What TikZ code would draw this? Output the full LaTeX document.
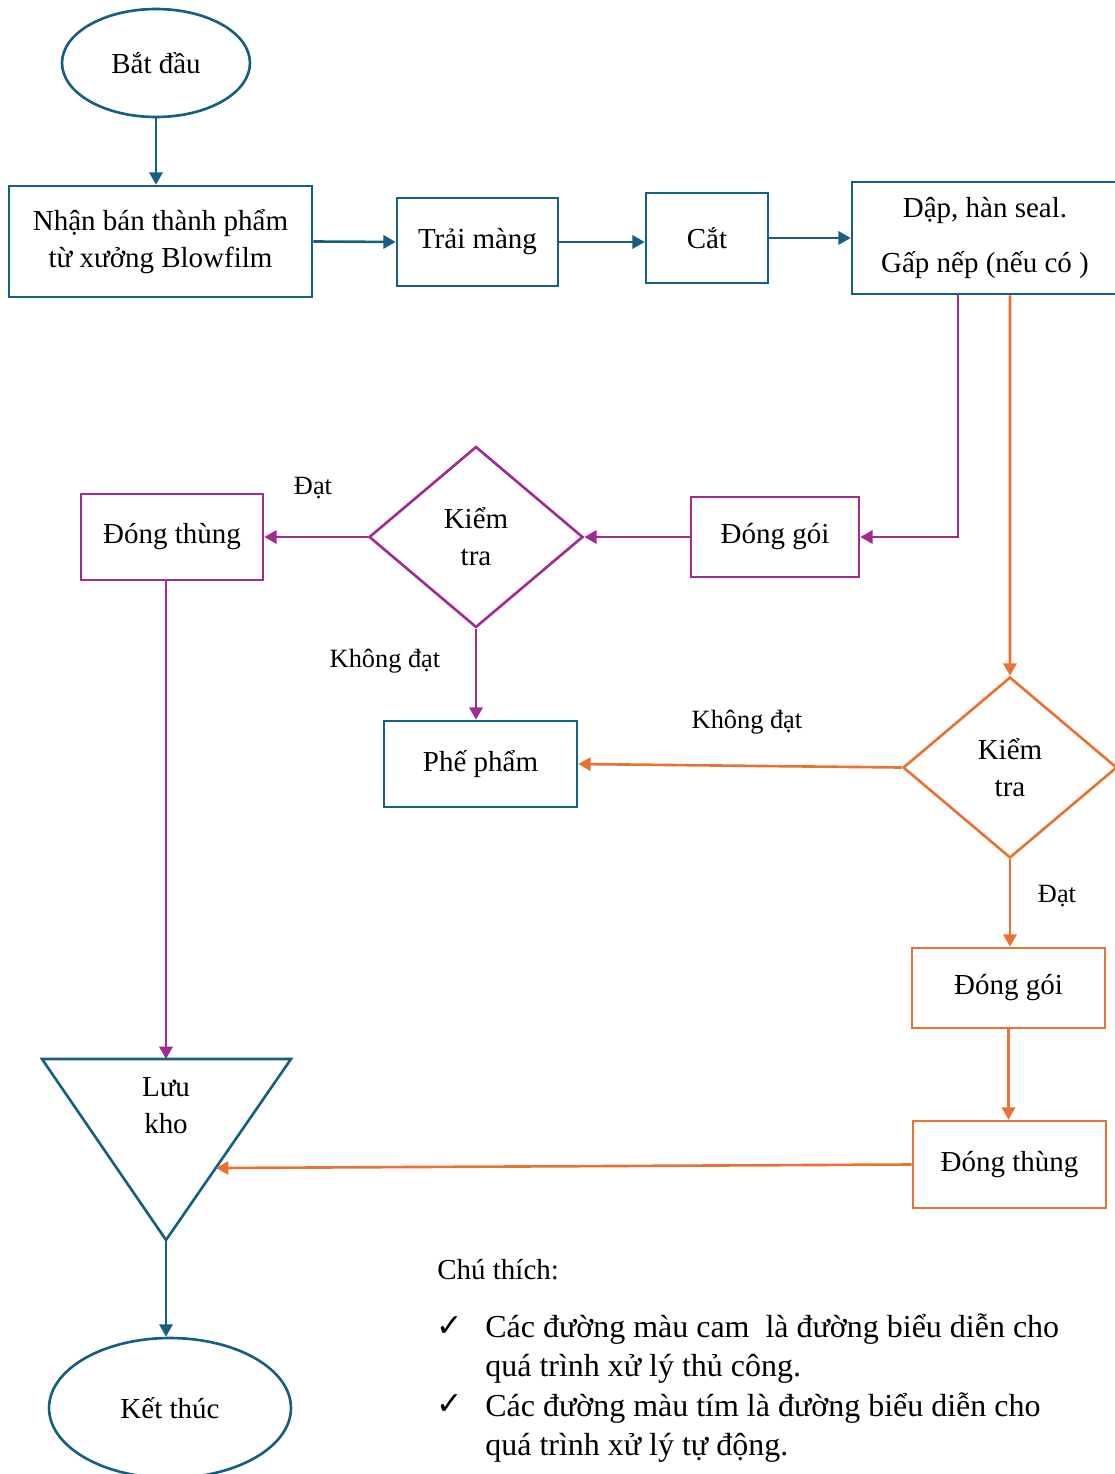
\documentclass[tikz,border=0pt]{standalone}
\usepackage{fontspec}
\setmainfont{Liberation Serif}
\newfontfamily\checkfont{DejaVu Sans}
\usetikzlibrary{shapes.geometric,arrows.meta}
\definecolor{xanh}{HTML}{156082}
\definecolor{cam}{HTML}{E97132}
\definecolor{tim}{HTML}{A02B93}
\begin{document}
\begin{tikzpicture}[x=0.02cm, y=-0.02cm,
        hop/.style={draw, line width=1.5pt, rectangle, inner sep=0pt, align=center, fill=white, font=\fontsize{16.5}{21}\selectfont},
        thoi/.style={draw, line width=1.5pt, diamond, aspect=1.18, inner sep=0pt, minimum width=4.28cm, minimum height=3.62cm, align=center, font=\fontsize{16.5}{21}\selectfont},
        tron/.style={draw=xanh, line width=1.5pt, ellipse, inner sep=0pt, font=\fontsize{16.5}{21}\selectfont},
        muiten/.style={line width=1.5pt, -{Triangle[length=7pt,width=7.5pt]}},
        nhan/.style={font=\fontsize{15}{18}\selectfont}]
    \useasboundingbox (0,0) rectangle (1115,1474);
    \node [tron] [minimum width=3.76cm, minimum height=2.16cm] (batdau) at (156, 63) {Bắt đầu};
    \node [hop] [draw=xanh, minimum width=6.06cm, minimum height=2.22cm] (nhanbtp) at (160.5, 241.5) {Nhận bán thành phẩm\\từ xưởng Blowfilm};
    \node [hop] [draw=xanh, minimum width=3.22cm, minimum height=1.76cm] (traimang) at (477.5, 242) {Trải màng};
    \node [hop] [draw=xanh, minimum width=2.44cm, minimum height=1.8cm] (cat) at (707, 238) {Cắt};
    \node [hop] [draw=xanh, minimum width=5.32cm, minimum height=2.24cm, font=\fontsize{16.5}{31}\selectfont] (dap) at (985, 238) {Dập, hàn seal.\\Gấp nếp (nếu có )};
    \node [hop] [draw=tim, minimum width=3.36cm, minimum height=1.6cm] (donggoi1) at (775, 537) {Đóng gói};
    \node [thoi] [draw=tim] (kiemtra1) at (476, 537) {Kiểm\\tra};
    \node [hop] [draw=tim, minimum width=3.64cm, minimum height=1.72cm] (dongthung1) at (172, 537) {Đóng thùng};
    \node [hop] [draw=xanh, minimum width=3.86cm, minimum height=1.72cm] (phepham) at (480.5, 764) {Phế phẩm};
    \node [thoi] [draw=cam] (kiemtra2) at (1010, 767.5) {Kiểm\\tra};
    \node [hop] [draw=cam, minimum width=3.86cm, minimum height=1.6cm] (donggoi2) at (1008.5, 988) {Đóng gói};
    \node [hop] [draw=cam, minimum width=3.86cm, minimum height=1.74cm] (dongthung2) at (1009.5, 1164.5) {Đóng thùng};
    \coordinate (luutren) at (166, 1059);
    \coordinate (luuduoi) at (166, 1240);
    \coordinate (luucanh) at (216, 1168);
    \draw [xanh, line width=1.5pt, line join=miter] (42, 1059) -- (291, 1059) -- (luuduoi) -- cycle;
    \node [font=\fontsize{16.5}{21}\selectfont, align=center] (luukho) at (166, 1106) {Lưu\\kho};
    \node [tron] [minimum width=4.84cm, minimum height=2.8cm] (ketthuc) at (170, 1408) {Kết thúc};
    \draw [muiten, xanh] (batdau.south) -- (batdau.south |- nhanbtp.north);
    \draw [muiten, xanh] (nhanbtp.east) -- (traimang.west);
    \draw [muiten, xanh] (traimang.east) -- (traimang.east -| cat.west);
    \draw [muiten, xanh] (cat.east) -- (dap.west);
    \draw [muiten, tim] ([xshift=-0.54cm]dap.south) |- (donggoi1.east);
    \draw [muiten, tim] (donggoi1.west) -- (kiemtra1.east);
    \draw [muiten, tim] (kiemtra1.west) -- (dongthung1.east);
    \draw [muiten, tim] (kiemtra1.south) -- (kiemtra1.south |- phepham.north);
    \draw [muiten, tim] (dongthung1.south -| luutren) -- (luutren);
    \draw [muiten, cam] ([xshift=0.5cm]dap.south) -- (kiemtra2.north);
    \draw [muiten, cam] (kiemtra2.west) -- (phepham.east);
    \draw [muiten, cam] (kiemtra2.south) -- (kiemtra2.south |- donggoi2.north);
    \draw [muiten, cam] (donggoi2.south) -- (donggoi2.south |- dongthung2.north);
    \draw [muiten, cam] (dongthung2.west) -- (luucanh);
    \draw [muiten, xanh] (luuduoi) -- (luuduoi |- ketthuc.north);
    \node [nhan] (dat1) at (313, 488) {Đạt};
    \node [nhan] (khongdat1) at (385, 661) {Không đạt};
    \node [nhan] (khongdat2) at (747, 722) {Không đạt};
    \node [nhan] (dat2) at (1057, 896) {Đạt};
    \node [anchor=west, inner sep=0pt, font=\fontsize{16.5}{21}\selectfont] (chuthich) at (437, 1270) {Chú thích:};
    \node [font=\checkfont\fontsize{18}{20}\selectfont] (dau1) at (450, 1327) {✓};
    \node [font=\checkfont\fontsize{18}{20}\selectfont] (dau2) at (450, 1405) {✓};
    \node [anchor=west, inner sep=0pt, align=left, font=\fontsize{18.2}{22.4}\selectfont] (ghichu) at (485, 1388) {Các đường màu cam\ \ là đường biểu diễn cho\\quá trình xử lý thủ công.\\Các đường màu tím là đường biểu diễn cho\\quá trình xử lý tự động.};
\end{tikzpicture}
\end{document}
